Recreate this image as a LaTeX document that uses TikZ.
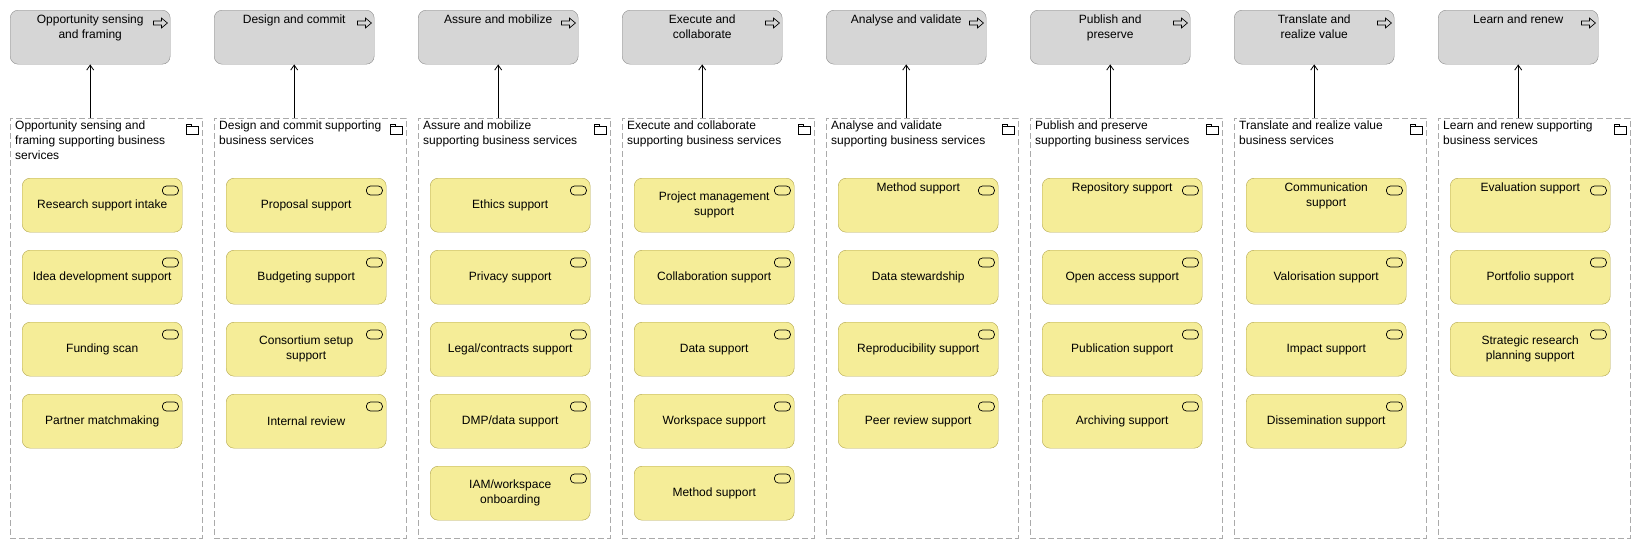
\documentclass[tikz,border=0pt]{standalone}
\usepackage{fontspec}
\setmainfont{Liberation Sans}
\usetikzlibrary{positioning,arrows.meta}
\definecolor{procfill}{HTML}{D6D6D6}
\definecolor{procdraw}{HTML}{8C8C8C}
\definecolor{svcfill}{HTML}{F5ED98}
\definecolor{svcdraw}{HTML}{B3A64E}
\definecolor{grpdraw}{HTML}{AAAAAA}
\tikzset{
  process/.style={draw=procdraw, fill=procfill, rounded corners=8pt,
    minimum width=160pt, minimum height=54pt, inner sep=0pt},
  service/.style={draw=svcdraw, fill=svcfill, rounded corners=8pt,
    minimum width=160pt, minimum height=54pt, inner sep=0pt,
    align=center, font=\fontsize{12}{15}\selectfont},
  group/.style={draw=grpdraw, dashed, dash pattern=on 6pt off 3pt,
    minimum width=192pt, minimum height=420pt, inner sep=0pt},
  lbl/.style={align=left, font=\fontsize{12}{15}\selectfont, inner sep=0pt},
  plbl/.style={align=center, font=\fontsize{12}{15}\selectfont, inner sep=0pt},
  icon/.style={draw=black, line width=0.7pt},
  realize/.style={-{Straight Barb[length=5pt,width=7pt]}, line width=0.8pt}
}
\begin{document}
\begin{tikzpicture}[x=1pt,y=-1pt]
  \useasboundingbox (0,0) rectangle (1641,549);
  \foreach \i/\proc/\grp/\svcs in {
    1/{Opportunity sensing\\and framing}/{Opportunity sensing and\\framing supporting business\\services}/{{Research support intake}/c,{Idea development support}/c,{Funding scan}/c,{Partner matchmaking}/c},
    2/{Design and commit}/{Design and commit supporting\\business services}/{{Proposal support}/c,{Budgeting support}/c,{Consortium setup\\support}/c,{Internal review}/c},
    3/{Assure and mobilize}/{Assure and mobilize\\supporting business services}/{{Ethics support}/c,{Privacy support}/c,{Legal/contracts support}/c,{DMP/data support}/c,{IAM/workspace\\onboarding}/c},
    4/{Execute and\\collaborate}/{Execute and collaborate\\supporting business services}/{{Project management\\support}/c,{Collaboration support}/c,{Data support}/c,{Workspace support}/c,{Method support}/c},
    5/{Analyse and validate}/{Analyse and validate\\supporting business services}/{{Method support}/t,{Data stewardship}/c,{Reproducibility support}/c,{Peer review support}/c},
    6/{Publish and\\preserve}/{Publish and preserve\\supporting business services}/{{Repository support}/t,{Open access support}/c,{Publication support}/c,{Archiving support}/c},
    7/{Translate and\\realize value}/{Translate and realize value\\business services}/{{Communication\\support}/t,{Valorisation support}/c,{Impact support}/c,{Dissemination support}/c},
    8/{Learn and renew}/{Learn and renew supporting\\business services}/{{Evaluation support}/t,{Portfolio support}/c,{Strategic research\\planning support}/c}} {
    % process on top, group of services below
    \node[process, anchor=north west] (proc\i) at ({10+204*(\i-1)},10) {};
    \node[plbl, anchor=north] at ([yshift=-5]proc\i.north) {\proc};
    \draw[icon, line join=miter]
      ([shift={(-17,11)}]proc\i.north east) -- ++(8,0) -- ++(0,-3) -- ++(6,5)
      -- ++(-6,5) -- ++(0,-3) -- ++(-8,0) -- cycle;
    \node[group, anchor=north west] (grp\i) at ({10+204*(\i-1)},118) {};
    \node[lbl, anchor=north west] at ([shift={(5,3)}]grp\i.north west) {\grp};
    \draw[icon, line width=0.6pt] ([shift={(-16,8)}]grp\i.north east) rectangle ++(12,8)
      ([shift={(-16,8)}]grp\i.north east) -- ++(0,-2) -- ++(5,0) -- ++(0,2);
    \draw[realize] (grp\i.north -| proc\i.south) -- (proc\i.south);
    \foreach \txt/\pos [count=\j] in \svcs {
      \node[service, anchor=north west] (svc\i-\j)
        at ({22+204*(\i-1)},{178+72*(\j-1)}) {\if t\pos\else\txt\fi};
      \if t\pos
        \node[plbl, anchor=north] at ([yshift=-5]svc\i-\j.north) {\txt};
      \fi
      \draw[icon, rounded corners=4pt]
        ([shift={(-20,8)}]svc\i-\j.north east) rectangle ++(16,9);
    }
  }
\end{tikzpicture}
\end{document}
